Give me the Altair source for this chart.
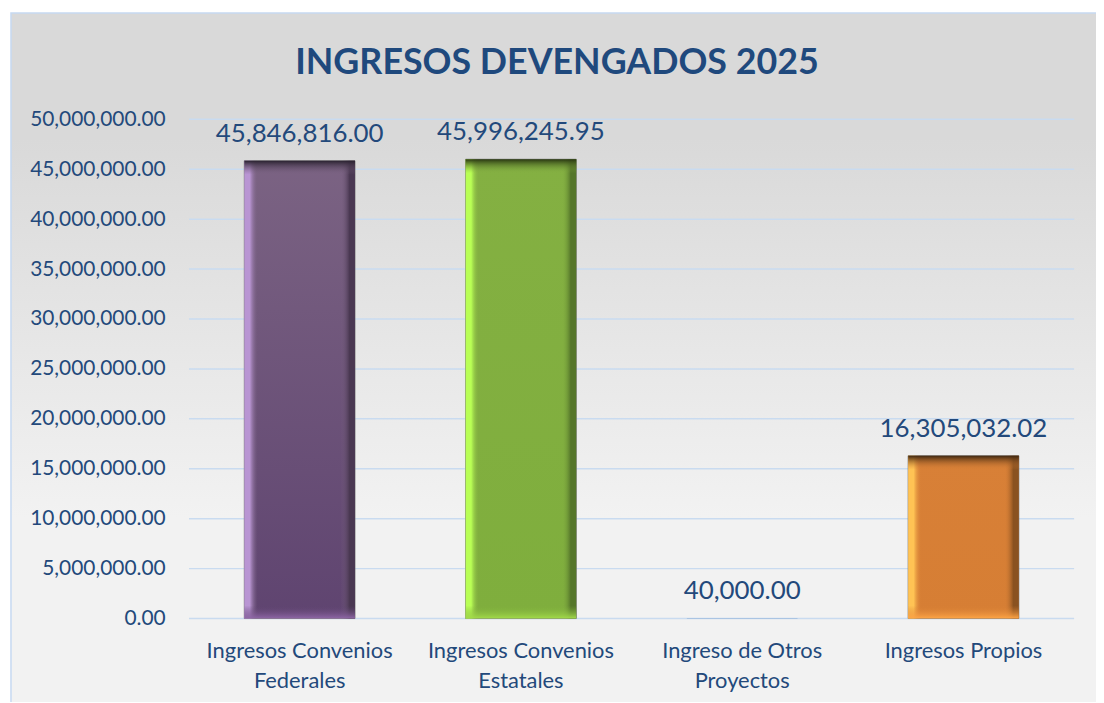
import altair as alt
import pandas as pd

# ---- data ----
categories = [
    "Ingresos Convenios Federales",
    "Ingresos Convenios Estatales",
    "Ingreso de Otros Proyectos",
    "Ingresos Propios",
]
values = [45846816.00, 45996245.95, 40000.00, 16305032.02]
label_lines = [
    ["Ingresos Convenios", "Federales"],
    ["Ingresos Convenios", "Estatales"],
    ["Ingreso de Otros", "Proyectos"],
    ["Ingresos Propios"],
]
y_ticks = [0, 5000000, 10000000, 15000000, 20000000, 25000000,
           30000000, 35000000, 40000000, 45000000, 50000000]
title_text = "INGRESOS DEVENGADOS 2025"

# bevel colours per bar: left-light, body-top, body-bottom, right-dark, top-dark, bottom-light
bar_left = ["#b995d3", "#b9ff55", "#4f81bd", "#ffc354"]
bar_body_top = ["#7b6383", "#84b042", "#4f81bd", "#d88037"]
bar_body_bottom = ["#5f4470", "#7fae3d", "#4f81bd", "#d67e34"]
bar_right = ["#4a3852", "#55762a", "#4f81bd", "#8a5220"]
bar_top = ["#2a2230", "#283611", "#4f81bd", "#3f2710"]
bar_bottom = ["#9068a8", "#a3dc4a", "#4f81bd", "#ffa646"]

TEXT = "#23497b"
FONT = "Lato"

df = pd.DataFrame({"category": categories, "value": values, "zero": [0] * len(values)})
grid_df = pd.DataFrame({"tick": y_ticks})

W, H = 890, 502

# label expression for two-line axis labels
expr = "datum.label"
for cat, lines in zip(categories, label_lines):
    arr = "[" + ",".join("'" + l + "'" for l in lines) + "]"
    expr = f"datum.label == '{cat}' ? {arr} : (" + expr + ")"

x_scale = alt.Scale(paddingInner=0.5, paddingOuter=0.25)
x_axis = alt.Axis(title=None, labelAngle=0, ticks=False, domain=False, grid=False,
                  labelFontSize=22, labelColor=TEXT, labelFont=FONT, labelLimit=400,
                  labelPadding=22, labelLineHeight=30, labelExpr=expr,
                  labelBaseline="top", zindex=1)
y_scale = alt.Scale(domain=[0, 50000000], nice=False, zero=True)
y_axis = alt.Axis(values=y_ticks, format=",.2f", title=None, grid=False,
                  ticks=False, domain=False, labelFontSize=21, labelLimit=400,
                  labelColor=TEXT, labelFont=FONT, labelPadding=24, zindex=1)


def X():
    return alt.X("category:N", sort=categories, scale=x_scale, axis=x_axis)


def Y(field):
    return alt.Y(field + ":Q", scale=y_scale, axis=y_axis)


# background gradient panel (decoration)
bg = alt.Chart(alt.Data(values=[{}])).mark_rect(
    fill=alt.Gradient(
        gradient="linear", x1=0, x2=0, y1=0, y2=1,
        stops=[
            alt.GradientStop(offset=0, color="#d9d9d9"),
            alt.GradientStop(offset=0.18, color="#d9d9d9"),
            alt.GradientStop(offset=0.72, color="#f2f2f2"),
            alt.GradientStop(offset=1, color="#f2f2f2"),
        ],
    ),
    stroke="#c6d9f1",
    strokeWidth=1.5,
    clip=False,
).encode(
    x=alt.value(-179), x2=alt.value(W + 40),
    y=alt.value(-107), y2=alt.value(H + 95),
)

title = alt.Chart(alt.Data(values=[{"t": title_text}])).mark_text(
    fontSize=36, font=FONT, fontWeight="bold", color="#1f497d",
    align="center", baseline="alphabetic",
).encode(x=alt.value(W / 2 - 75), y=alt.value(-46), text="t:N")

grid = alt.Chart(grid_df).mark_rule(color="#c9dbf0", strokeWidth=1.5).encode(
    y=Y("tick"), x=alt.value(0), x2=alt.value(W),
)

layers = [bg, title, grid]

for i, cat in enumerate(categories):
    base = alt.Chart(df).transform_filter(alt.datum.category == cat)
    big = values[i] > 1000000
    body = base.mark_bar(
        fill=alt.Gradient(
            gradient="linear", x1=0, x2=0, y1=0, y2=1,
            stops=[alt.GradientStop(offset=0, color=bar_body_top[i]),
                   alt.GradientStop(offset=1, color=bar_body_bottom[i])],
        ),
        stroke="#7f7f7f" if big else bar_body_top[i],
        strokeWidth=1 if big else 0,
    ).encode(x=X(), y=Y("value"), y2="zero:Q")
    layers.append(body)
    if big:
        sides = base.mark_bar(
            fill=alt.Gradient(
                gradient="linear", x1=0, x2=1, y1=0, y2=0,
                stops=[alt.GradientStop(offset=0, color=bar_left[i]),
                       alt.GradientStop(offset=0.05, color=bar_left[i]),
                       alt.GradientStop(offset=0.12, color=bar_body_top[i] + "00"),
                       alt.GradientStop(offset=0.87, color=bar_body_top[i] + "00"),
                       alt.GradientStop(offset=0.95, color=bar_right[i]),
                       alt.GradientStop(offset=1, color=bar_right[i])],
            ),
        ).encode(x=X(), y=Y("value"), y2="zero:Q")
        top = base.mark_bar(
            y2Offset=14,
            fill=alt.Gradient(
                gradient="linear", x1=0, x2=0, y1=0, y2=1,
                stops=[alt.GradientStop(offset=0, color=bar_top[i]),
                       alt.GradientStop(offset=1, color=bar_body_top[i] + "00")],
            ),
        ).encode(x=X(), y=Y("value"), y2="value:Q")
        bottom = base.mark_bar(
            yOffset=-13,
            fill=alt.Gradient(
                gradient="linear", x1=0, x2=0, y1=0, y2=1,
                stops=[alt.GradientStop(offset=0, color=bar_body_bottom[i] + "00"),
                       alt.GradientStop(offset=1, color=bar_bottom[i])],
            ),
        ).encode(x=X(), y=Y("zero"), y2="zero:Q")
        layers += [sides, top, bottom]

labels = alt.Chart(df).mark_text(
    dy=-27, baseline="middle", align="center", fontSize=26, font=FONT, color=TEXT
).encode(
    x=X(), y=Y("value"),
    text=alt.Text("value:Q", format=",.2f"),
)
layers.append(labels)

chart = alt.layer(*layers).properties(
    width=W, height=H,
    padding={"left": 182, "top": 110, "right": 22, "bottom": 82},
    autosize=alt.AutoSizeParams(type="none"),
    background="white",
).configure_view(stroke=None)

chart.save("out.html", embed_options={"renderer": "svg", "actions": False})
